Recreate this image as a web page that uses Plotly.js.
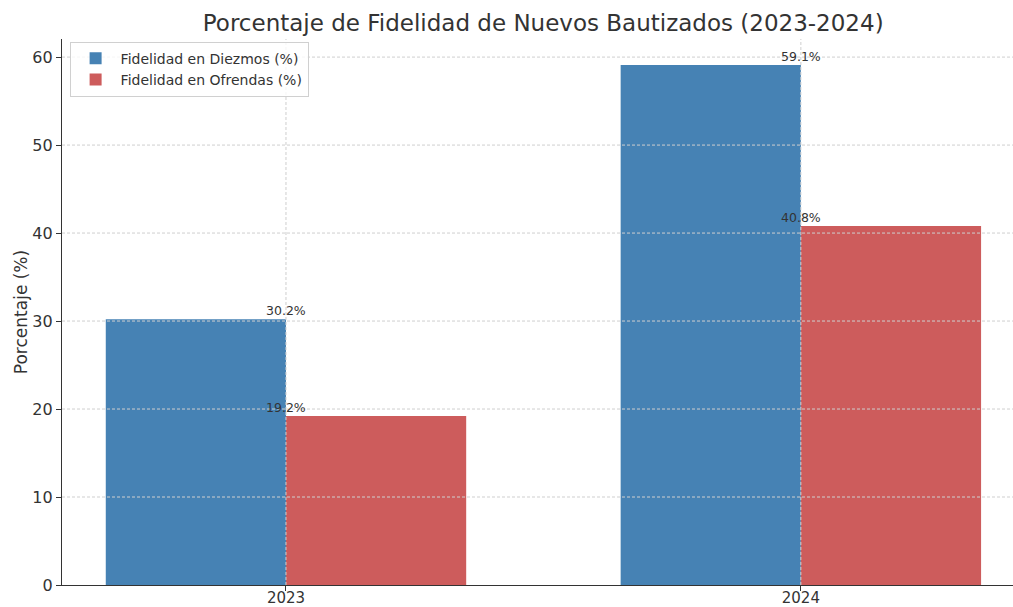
<!DOCTYPE html>
<html>
<head>
<meta charset="utf-8">
<script src="https://cdn.plot.ly/plotly-3.0.1.min.js"></script>
<style>html,body{margin:0;padding:0;background:#fff;}#chart{width:1013px;height:607px;}</style>
</head>
<body>
<div id="chart"></div>
<script>
const years = ["2023", "2024"];
const yearPos = [0, 1];
const diezmos = [30.2, 59.1];
const ofrendas = [19.2, 40.8];
const seriesNames = ["Fidelidad en Diezmos (%)", "Fidelidad en Ofrendas (%)"];
const yTicks = [0, 10, 20, 30, 40, 50, 60];

const barW = 0.35;
const traces = [
  {type: "bar", x: yearPos, y: diezmos, name: seriesNames[0], width: barW, offset: -barW,
   marker: {color: "#4682B4", line: {width: 0}}, hoverinfo: "y"},
  {type: "bar", x: yearPos, y: ofrendas, name: seriesNames[1], width: barW, offset: 0,
   marker: {color: "#CD5C5C", line: {width: 0}}, hoverinfo: "y"}
];

const annotations = [];
[diezmos, ofrendas].forEach(arr => {
  arr.forEach((v, i) => {
    annotations.push({x: yearPos[i], y: v, xref: "x", yref: "y", text: v.toFixed(1) + "%",
      showarrow: false, xanchor: "center", yanchor: "bottom", yshift: -1,
      font: {family: "DejaVu Sans", size: 12.5, color: "#333333"}});
  });
});

// grid lines drawn above bars (as matplotlib does), placed at the tick values
const gridStyle = {color: "#cfcfcf", width: 1, dash: "3px,2px"};
const shapes = [];
yTicks.slice(1).forEach(t => shapes.push({type: "line", layer: "above", xref: "paper", yref: "y",
  x0: 0, x1: 1, y0: t, y1: t, line: gridStyle}));
yearPos.forEach(p => shapes.push({type: "line", layer: "above", xref: "x", yref: "paper",
  x0: p, x1: p, y0: 0, y1: 1, line: gridStyle}));

const ymax = Math.max(...diezmos, ...ofrendas) * 1.05;

const layout = {
  width: 1013, height: 607,
  margin: {l: 62, r: 0, t: 39, b: 22},
  paper_bgcolor: "#fff", plot_bgcolor: "#fff",
  font: {family: "DejaVu Sans", color: "#333333"},
  title: {text: "Porcentaje de Fidelidad de Nuevos Bautizados (2023-2024)",
    font: {family: "DejaVu Sans", size: 23, color: "#333333"},
    xref: "paper", x: 0.506, xanchor: "center", yref: "container", y: 0.963, yanchor: "middle"},
  barmode: "overlay",
  xaxis: {range: [-0.435, 1.412], tickvals: yearPos, ticktext: years, tickfont: {size: 15, color: "#333"},
    showgrid: false, ticklabelstandoff: -6,
    showline: true, linecolor: "#333", linewidth: 1.2, ticks: "outside", ticklen: 5, tickcolor: "#333",
    zeroline: false, layer: "above traces", fixedrange: true},
  yaxis: {range: [0, ymax], tickvals: yTicks, tickfont: {size: 16, color: "#333"},
    title: {text: "Porcentaje (%)", font: {size: 17, color: "#333"}, standoff: 0},
    showgrid: false,
    showline: true, linecolor: "#333", linewidth: 1.2, ticks: "outside", ticklen: 5, tickcolor: "#333",
    zeroline: false, layer: "above traces", fixedrange: true},
  legend: {x: 0.008, y: 0.995, xanchor: "left", yanchor: "top", bgcolor: "rgba(255,255,255,0.8)",
    bordercolor: "#d0d0d0", borderwidth: 1, font: {size: 14, color: "#333"}, traceorder: "normal",
    itemwidth: 40},
  annotations: annotations,
  shapes: shapes,
  showlegend: true
};

Plotly.newPlot("chart", traces, layout, {displayModeBar: false, staticPlot: true});
</script>
</body>
</html>
